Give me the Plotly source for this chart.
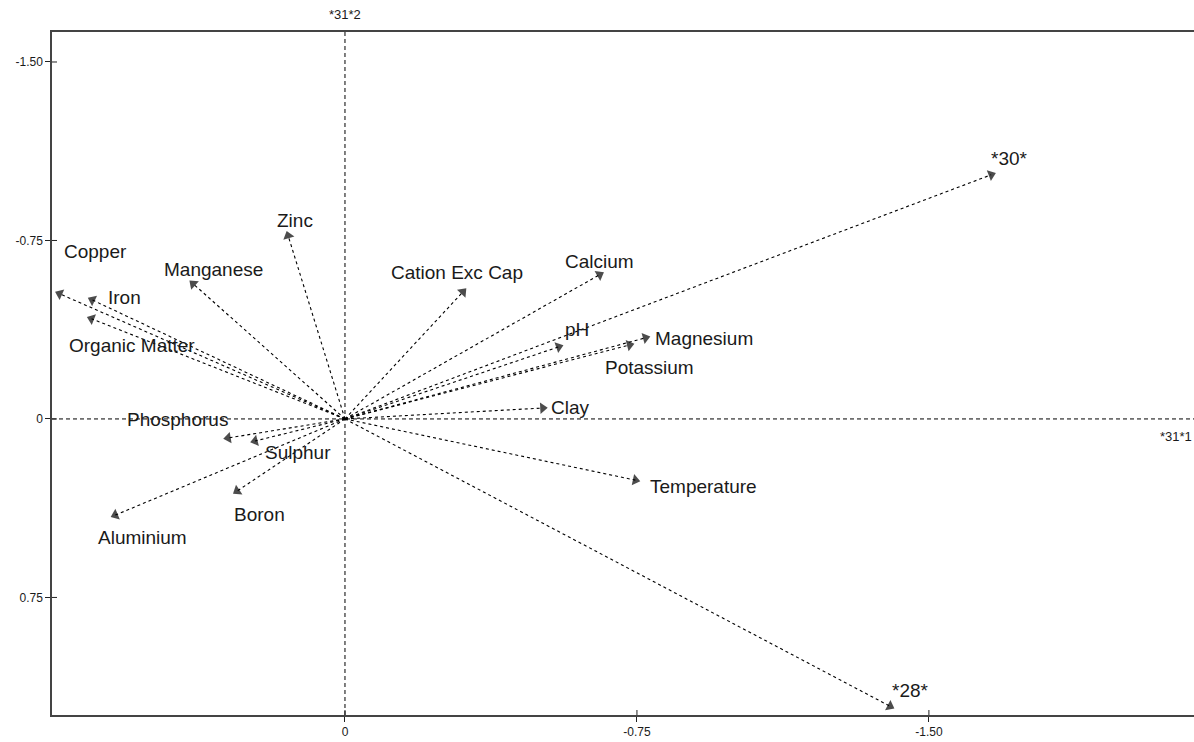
import plotly.graph_objects as go

# Biplot vectors: axis-1 and axis-2 scores for each soil variable / sample
names = ["*30*", "*28*", "Zinc", "Copper", "Manganese", "Iron", "Organic Matter",
         "Phosphorus", "Sulphur", "Boron", "Aluminium", "Cation Exc Cap",
         "Calcium", "pH", "Magnesium", "Potassium", "Clay", "Temperature"]
axis1 = [-1.66, -1.40, 0.146, 0.733, 0.390, 0.649, 0.651,
         0.300, 0.231, 0.277, 0.590, -0.303,
         -0.654, -0.549, -0.772, -0.731, -0.508, -0.746]
axis2 = [-1.026, 1.207, -0.770, -0.526, -0.568, -0.500, -0.421,
         0.080, 0.0925, 0.303, 0.404, -0.534,
         -0.606, -0.303, -0.341, -0.311, -0.046, 0.257]

x_ticks = [0, -0.75, -1.5]
x_tick_text = ["0", "-0.75", "-1.50"]
y_ticks = [-1.5, -0.75, 0, 0.75]
y_tick_text = ["-1.50", "-0.75", "0", "0.75"]

# label placement relative to the arrow tip, in pixels (dx right, dy up)
label_offsets = {
    "*30*": (18, 16), "*28*": (21, 16), "Zinc": (7, 15), "Copper": (36, 42),
    "Manganese": (20, 14), "Iron": (32, 2), "Organic Matter": (40, -27),
    "Phosphorus": (-51, 18), "Sulphur": (43, -12), "Boron": (22, -23),
    "Aluminium": (27, -22), "Cation Exc Cap": (-6, 19), "Calcium": (0, 13),
    "pH": (18, 17), "Magnesium": (58, -1), "Potassium": (20, -23),
    "Clay": (28, 1), "Temperature": (68, -6),
}

label_font = dict(family="Liberation Sans, Arial, sans-serif", size=19, color="#1a1a1a")
tick_font = dict(family="Liberation Sans Narrow, Liberation Sans, Arial, sans-serif",
                 size=12, color="#1a1a1a")

fig = go.Figure()

for n, xv, yv in zip(names, axis1, axis2):
    fig.add_trace(go.Scatter(
        x=[0, xv], y=[0, yv], mode="lines+markers",
        line=dict(color="black", width=1.1, dash="3px,3px"),
        marker=dict(symbol="triangle-up", size=[0, 10], color="black",
                    angleref="previous", line=dict(width=0)),
        hoverinfo="skip", showlegend=False,
    ))
    dx, dy = label_offsets[n]
    fig.add_annotation(x=xv, y=yv, text=n, showarrow=False,
                       xshift=dx, yshift=dy, font=label_font,
                       xanchor="center", yanchor="middle")

# dashed reference axes through the origin
fig.add_shape(type="line", xref="x", yref="paper", x0=0, x1=0, y0=0, y1=1,
              line=dict(color="black", width=1, dash="4px,3px"), layer="below")
fig.add_shape(type="line", xref="paper", yref="y", x0=0, x1=1, y0=0, y1=0,
              line=dict(color="black", width=1, dash="4px,3px"), layer="below")

# inner half of each tick so the tick marks cross the frame
for tv in x_ticks:
    fig.add_shape(type="line", xref="x", yref="paper", x0=tv, x1=tv,
                  ysizemode="pixel", yanchor=0, y0=0, y1=5,
                  line=dict(color="#222", width=1))
for tv in y_ticks:
    fig.add_shape(type="line", xref="paper", yref="y", y0=tv, y1=tv,
                  xsizemode="pixel", xanchor=0, x0=0, x1=5,
                  line=dict(color="#222", width=1))

fig.add_annotation(x=0, y=1, xref="x", yref="paper", text="*31*2", showarrow=False,
                   yanchor="bottom", yshift=8, font=dict(tick_font, size=13))
fig.add_annotation(x=1, y=0, xref="paper", yref="y", text="*31*1", showarrow=False,
                   xanchor="right", yanchor="middle", yshift=-18,
                   font=dict(tick_font, size=13))

fig.update_layout(
    width=1194, height=742,
    margin=dict(l=52, r=0, t=32, b=27),
    paper_bgcolor="white", plot_bgcolor="white",
    xaxis=dict(range=[0.7526, -2.181], tickvals=x_ticks, ticktext=x_tick_text,
               showgrid=False, zeroline=False, showline=True, mirror=True,
               linecolor="#444", linewidth=1.5, ticks="outside", ticklen=5,
               tickcolor="#222", tickfont=tick_font),
    yaxis=dict(range=[1.244, -1.626], tickvals=y_ticks, ticktext=y_tick_text,
               showgrid=False, zeroline=False, showline=True, mirror=False,
               linecolor="#444", linewidth=1.5, ticks="outside", ticklen=5,
               tickcolor="#222", tickfont=tick_font),
)

fig.write_html("out.html")
